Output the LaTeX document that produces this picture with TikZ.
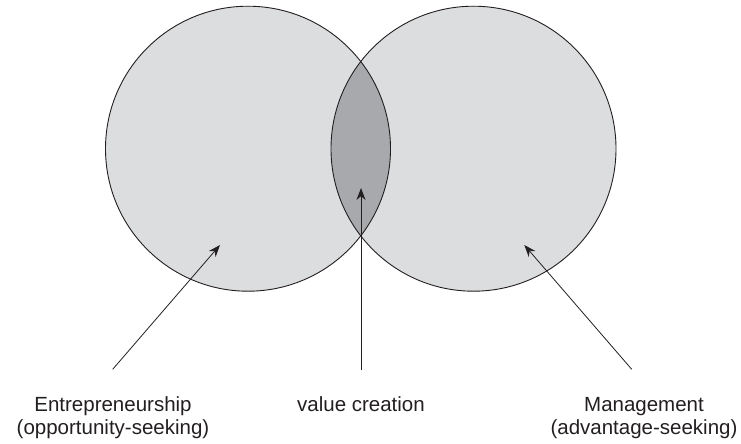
\documentclass[tikz,border=0pt]{standalone}
\usepackage{fontspec}
\setmainfont{Liberation Sans}
\usetikzlibrary{arrows.meta}
\definecolor{ringfill}{HTML}{DCDDDF}
\definecolor{lensfill}{HTML}{A8A9AC}
\definecolor{ink}{HTML}{231F20}
\tikzset{
  ring/.style={circle, minimum size=285pt, inner sep=0pt, draw=ink, line width=0.9pt},
  pointer/.style={draw=ink, line width=0.8pt, -{Stealth[length=12pt, width=9pt]}},
  caption/.style={align=center, anchor=base, inner sep=0pt,
    font=\fontsize{20.5}{23}\selectfont, text=ink}
}
\begin{document}
\begin{tikzpicture}[x=1pt, y=-1pt]
  \useasboundingbox (0,0) rectangle (741,444);
  % the two sets, filled first
  \fill[ringfill] (248,148.7) circle (142.5);
  \fill[ringfill] (473.5,148.7) circle (142.5);
  % their overlap, darker
  \begin{scope}
    \clip (248,148.7) circle (142.5);
    \fill[lensfill] (473.5,148.7) circle (142.5);
  \end{scope}
  % outlines
  \node[ring] (ent) at (248,148.7) {};
  \node[ring] (man) at (473.5,148.7) {};

  % labels (base anchor of a two-line label is its second baseline)
  \node[caption] (entlabel) at (113,434.5) {Entrepreneurship\\(opportunity-seeking)};
  \node[caption] (vallabel) at (361,411) {value creation};
  \node[caption] (manlabel) at (644,434.5) {Management\\(advantage-seeking)};

  % arrow ends
  \coordinate (entfoot) at (112.7,369.3);
  \coordinate (enttip) at (220,245);
  \coordinate (valfoot) at (361,370);
  \coordinate (valtip) at (361,188);
  \coordinate (manfoot) at (631.7,369.3);
  \coordinate (mantip) at (524.3,245);

  \draw[pointer] (entfoot) -- (enttip);
  \draw[pointer] (valfoot) -- (valtip);
  \draw[pointer] (manfoot) -- (mantip);
\end{tikzpicture}
\end{document}
